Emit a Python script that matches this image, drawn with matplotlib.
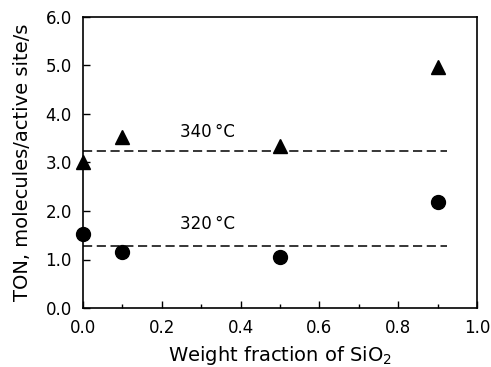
import matplotlib
matplotlib.use("Agg")
import matplotlib.pyplot as plt
from matplotlib.ticker import MultipleLocator

# data
x_sio2 = [0.0, 0.1, 0.5, 0.9]
ton_340 = [3.0, 3.53, 3.34, 4.97]
ton_320 = [1.53, 1.15, 1.05, 2.19]
avg_340 = 3.23
avg_320 = 1.28
line_end = 0.925

plt.rcParams['font.family'] = ['DejaVu Sans']

fig = plt.figure(figsize=(4.91, 3.67), dpi=100)
ax = fig.add_axes([83 / 491, 1 - 308 / 367, 394 / 491, 291 / 367])

ax.plot(x_sio2, ton_340, '^', color='black', ms=10, clip_on=False, zorder=3)
ax.plot(x_sio2, ton_320, 'o', color='black', ms=10, clip_on=False, zorder=3)
ax.plot([0, line_end], [avg_340, avg_340], '--', color='black', lw=1.1, dashes=(6, 3))
ax.plot([0, line_end], [avg_320, avg_320], '--', color='black', lw=1.1, dashes=(6, 3))
ax.text(0.245, 3.52, '340\u2009\u00b0C', fontsize=12)
ax.text(0.245, 1.62, '320\u2009\u00b0C', fontsize=12)

ax.set_xlim(0, 1.0)
ax.set_ylim(0, 6.0)
ax.xaxis.set_major_locator(MultipleLocator(0.2))
ax.xaxis.set_minor_locator(MultipleLocator(0.1))
ax.yaxis.set_major_locator(MultipleLocator(1.0))
ax.xaxis.set_major_formatter(plt.FormatStrFormatter('%.1f'))
ax.yaxis.set_major_formatter(plt.FormatStrFormatter('%.1f'))
ax.tick_params(which='both', direction='in', labelsize=12, width=1)
ax.tick_params(which='major', length=5, pad=8)
ax.tick_params(which='minor', length=3)
for s in ax.spines.values():
    s.set_linewidth(1.2)

ax.set_xlabel('Weight fraction of SiO$_2$', fontsize=14, labelpad=5)
ax.set_ylabel('TON, molecules/active site/s', fontsize=14, labelpad=10)

fig.savefig('out.png', dpi=100)
